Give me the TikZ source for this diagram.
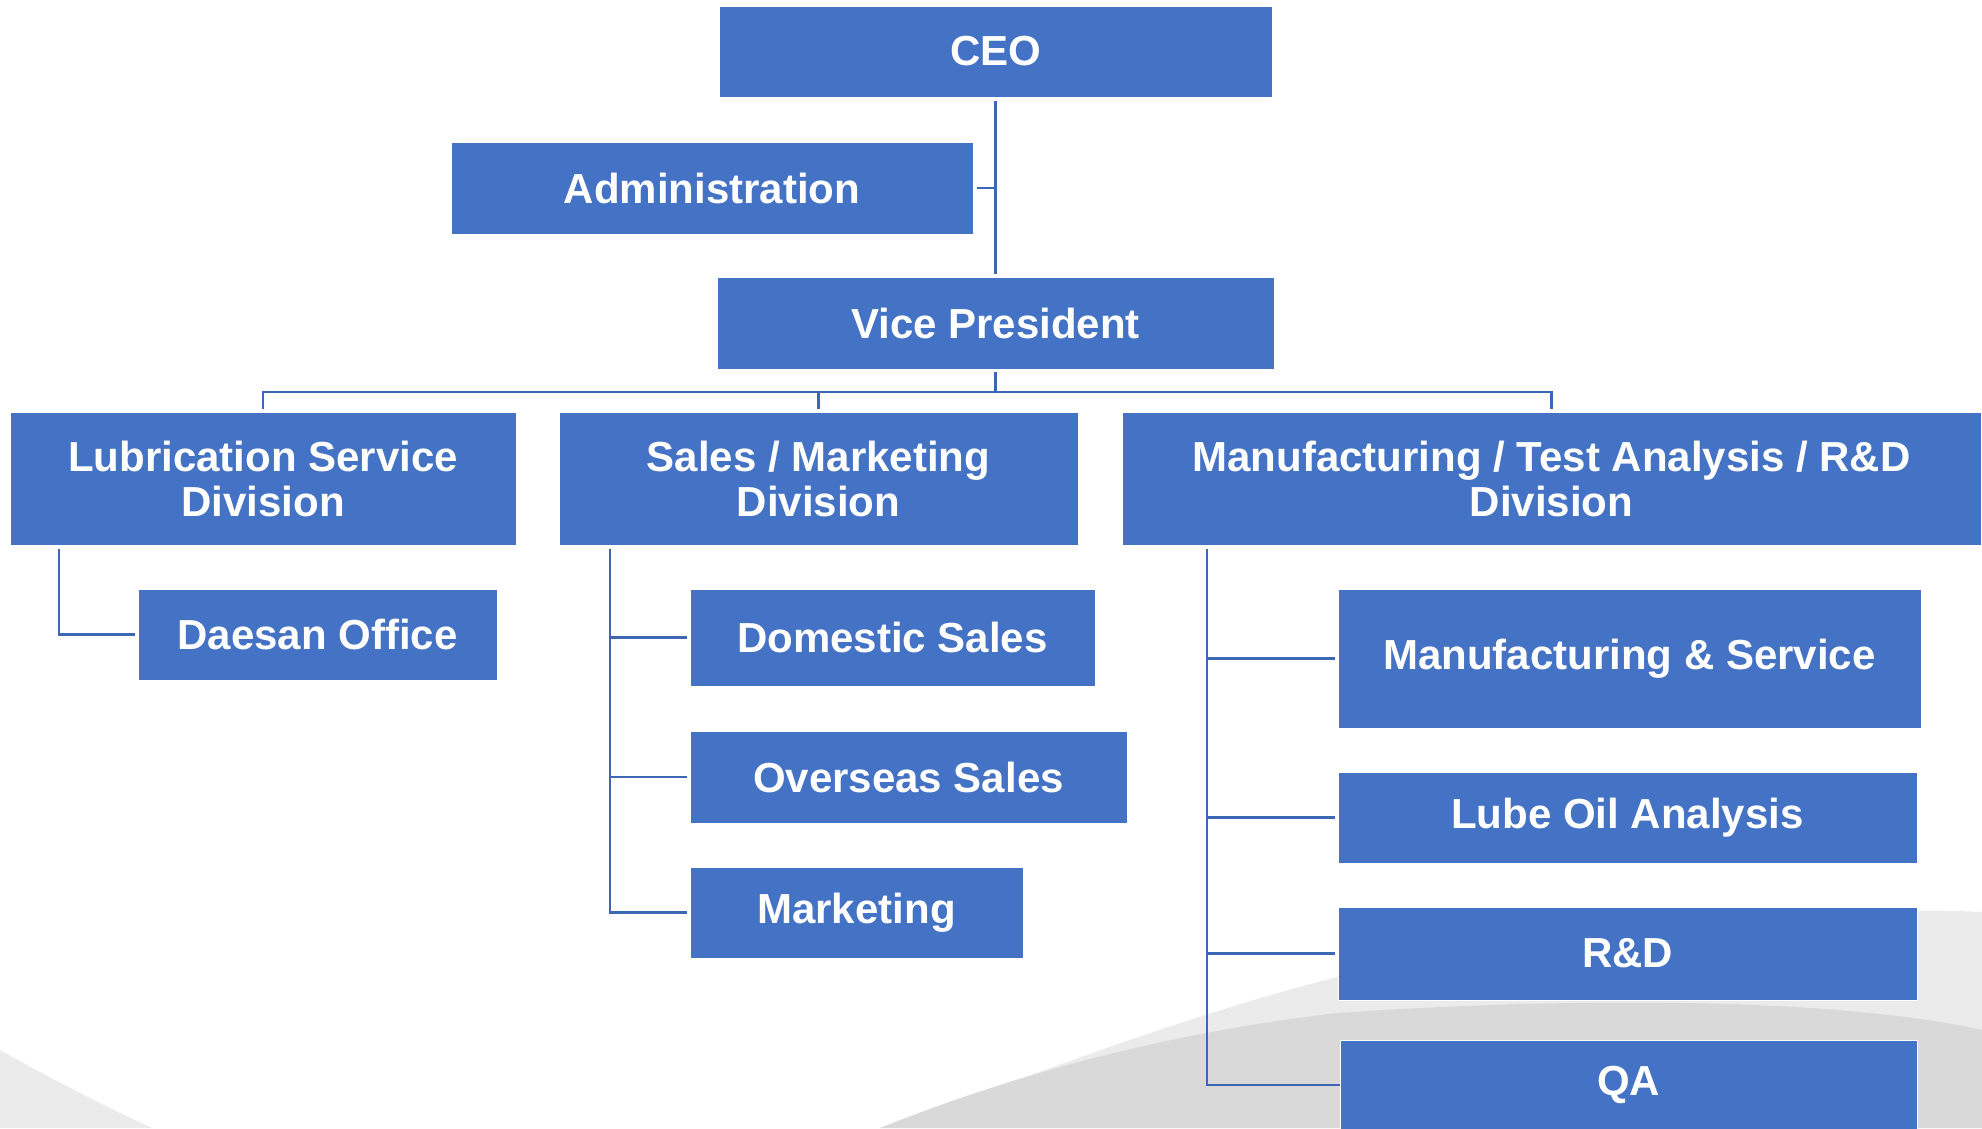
\documentclass[tikz,border=0pt]{standalone}
\usepackage{fontspec}
\setmainfont{Liberation Sans}
\usetikzlibrary{calc}
\definecolor{boxblue}{HTML}{4472C4}
\definecolor{lineblue}{HTML}{3D66B5}
\definecolor{lightgray}{HTML}{EBEBEB}
\definecolor{darkgray}{HTML}{D9D9D9}
\begin{document}
\begin{tikzpicture}[x=1pt,y=-1pt,
  orgbox/.style={fill=boxblue, draw=white, line width=1pt, text=white,
    font=\fontsize{42}{45}\selectfont\bfseries, align=center,
    inner sep=0pt, outer sep=0pt},
  conn/.style={draw=lineblue, line width=2.6pt}]
\useasboundingbox (0,0) rectangle (1982,1128);
% background swooshes
\fill[lightgray] (0,1050) .. controls (50,1078) and (100,1104) .. (152,1128) -- (0,1128) -- cycle;
\fill[lightgray] (880,1128) .. controls (1000,1090) and (1150,1025) .. (1337,977)
  .. controls (1600,925) and (1850,905) .. (1982,912) -- (1982,1128) -- cycle;
\fill[darkgray] (880,1128) .. controls (1000,1080) and (1150,1035) .. (1337,1013)
  .. controls (1600,995) and (1850,1000) .. (1982,1030) -- (1982,1128) -- cycle;
% boxes
\node[orgbox, minimum width=553pt, minimum height=91pt] (ceo) at (995.5,51.5) {CEO};
\node[orgbox, minimum width=522pt, minimum height=92pt] (adm) at (712,188) {Administration};
\node[orgbox, minimum width=557pt, minimum height=92pt] (vp) at (995.5,323) {Vice President};
\node[orgbox, minimum width=506pt, minimum height=133pt] (lub) at (263,478.5) {Lubrication Service\\Division};
\node[orgbox, minimum width=519pt, minimum height=133pt] (sal) at (818.5,478.5) {Sales / Marketing\\Division};
\node[orgbox, minimum width=859pt, minimum height=133pt] (man) at (1551.5,478.5) {Manufacturing / Test Analysis / R\&D\\Division};
\node[orgbox, minimum width=359pt, minimum height=91pt] (dae) at (317.5,634.5) {Daesan Office};
\node[orgbox, minimum width=405pt, minimum height=97pt] (dom) at (892.5,637.5) {Domestic Sales};
\node[orgbox, minimum width=437pt, minimum height=92pt] (ovs) at (908.5,777) {Overseas Sales};
\node[orgbox, minimum width=333pt, minimum height=91pt] (mkt) at (856.5,912.5) {Marketing};
\node[orgbox, minimum width=583pt, minimum height=139pt] (mfs) at (1629.5,658.5) {Manufacturing \& Service};
\node[orgbox, minimum width=579pt, minimum height=91pt] (lube) at (1627.5,817.5) {Lube Oil Analysis};
\node[orgbox, minimum width=579pt, minimum height=93pt] (rnd) at (1627.5,953.5) {R\&D};
\node[orgbox, minimum width=577pt, minimum height=90pt] (qa) at (1628.5,1085) {QA};
% connectors
\draw[conn] ([yshift=-4pt]ceo.south) -- ([yshift=3pt]vp.north);
\draw[conn] ([xshift=4pt]adm.east) -- (adm.east -| ceo.south);
\coordinate (bus) at ([yshift=-23pt]vp.south);
\draw[conn] ([yshift=-3pt]vp.south) -- (bus);
\draw[conn] ([yshift=3pt]lub.north) |- (bus) -| ([yshift=3pt]man.north);
\draw[conn] ([yshift=3pt]sal.north) -- (sal.north |- bus);
\coordinate (lubv) at ([xshift=49pt,yshift=-4pt]lub.south west);
\draw[conn] (lubv) |- ([xshift=-3pt]dae.west);
\coordinate (salv) at ([xshift=51pt,yshift=-4pt]sal.south west);
\draw[conn] (salv) |- ([xshift=-3pt]dom.west);
\draw[conn] (salv) |- ([xshift=-3pt]ovs.west);
\draw[conn] (salv) |- ([xshift=-3pt]mkt.west);
\coordinate (manv) at ([xshift=85pt,yshift=-4pt]man.south west);
\draw[conn] (manv) |- ([xshift=-3pt]mfs.west);
\draw[conn] (manv) |- ([xshift=-3pt]lube.west);
\draw[conn] (manv) |- ([xshift=-3pt]rnd.west);
\draw[conn] (manv) |- (qa.west);
\end{tikzpicture}
\end{document}
